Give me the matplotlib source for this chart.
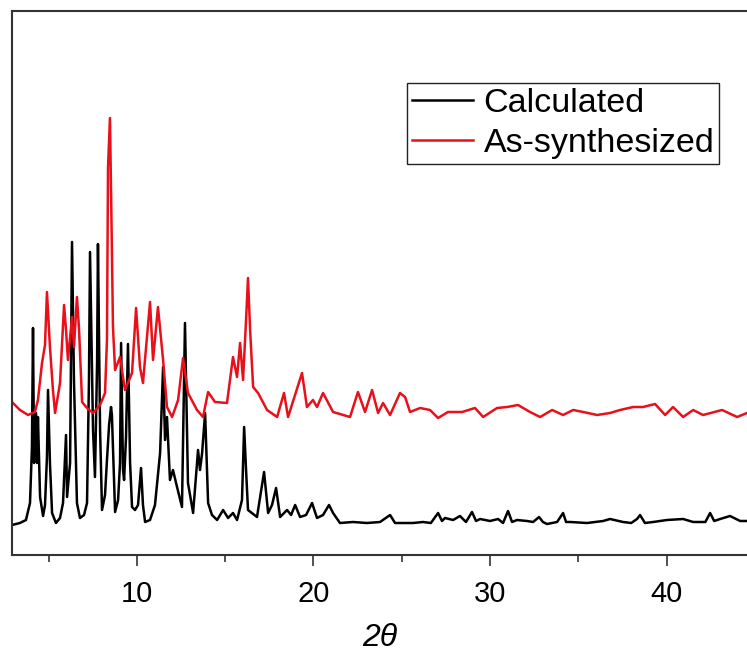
import matplotlib
matplotlib.use("Agg")
import matplotlib.pyplot as plt
from matplotlib.ticker import MultipleLocator

plt.rcParams['font.family'] = ['Liberation Sans', 'DejaVu Sans']

# Calculated pattern (2theta, intensity a.u.)
calc_2theta = [2.92, 3.37, 3.71, 3.94, 4.05, 4.11, 4.17, 4.28, 4.34, 4.39, 4.51, 4.68, 4.79, 4.90, 4.96,
               5.07, 5.19, 5.41, 5.64, 5.81, 5.98, 6.04, 6.21, 6.32, 6.43, 6.60, 6.77, 7.00, 7.17, 7.28,
               7.34, 7.51, 7.62, 7.74, 7.79, 7.91, 8.02, 8.19, 8.30, 8.42, 8.53, 8.58, 8.76, 8.93, 9.04,
               9.10, 9.21, 9.27, 9.38, 9.49, 9.61, 9.72, 9.89, 10.06, 10.23, 10.34, 10.46, 10.74, 11.02,
               11.31, 11.48, 11.59, 11.70, 11.87, 12.04, 12.27, 12.55, 12.72, 12.89, 13.18, 13.46, 13.57,
               13.69, 13.86, 14.03, 14.25, 14.54, 14.88, 15.16, 15.44, 15.67, 15.95, 16.07, 16.18, 16.29,
               16.80, 17.20, 17.43, 17.65, 17.88, 18.11, 18.50, 18.73, 18.96, 19.24, 19.58, 19.92, 20.20,
               20.54, 20.88, 21.11, 21.50, 22.24, 23.03, 23.77, 24.34, 24.62, 24.90, 25.64, 26.21, 26.65,
               27.06, 27.28, 27.45, 27.91, 28.30, 28.64, 28.98, 29.21, 29.44, 30.00, 30.46, 30.74, 31.02,
               31.25, 31.53, 32.10, 32.44, 32.78, 33.00, 33.23, 33.80, 34.14, 34.31, 34.54, 35.50, 36.41,
               36.80, 37.54, 38.00, 38.33, 38.50, 38.78, 39.24, 40.03, 40.94, 41.51, 42.20, 42.47, 42.70,
               43.04, 43.60, 44.17, 44.56]
calc_int = [30, 32, 35, 52, 108, 227, 92, 142, 92, 138, 58, 39, 50, 98, 165,
            92, 42, 32, 37, 52, 120, 58, 92, 313, 175, 52, 37, 40, 52, 175,
            303, 125, 78, 192, 311, 125, 45, 60, 95, 130, 148, 140, 43, 55, 92,
            212, 85, 75, 118, 211, 92, 48, 45, 50, 87, 50, 33, 35, 50,
            102, 188, 115, 138, 75, 85, 68, 48, 232, 72, 42, 105, 85,
            102, 142, 52, 40, 35, 45, 37, 42, 35, 55, 128, 85, 45,
            38, 83, 42, 50, 67, 38, 45, 40, 50, 38, 40, 52, 37,
            40, 50, 42, 32, 33, 32, 33, 40, 32, 32, 32, 33, 32,
            42, 34, 37, 35, 39, 33, 43, 34, 36, 34, 36, 32, 44,
            33, 35, 34, 33, 38, 33, 31, 33, 42, 33, 33, 32, 34,
            36, 33, 32, 36, 40, 32, 33, 35, 36, 33, 33, 42, 34,
            36, 39, 34, 34]

# As-synthesized pattern
exp_2theta = [2.92, 3.37, 3.83, 4.22, 4.39, 4.62, 4.79, 4.90, 5.07, 5.24, 5.36, 5.64, 5.87, 5.98, 6.09,
              6.32, 6.43, 6.60, 6.72, 6.89, 7.17, 7.51, 7.91, 8.19, 8.30, 8.36, 8.47, 8.58, 8.64, 8.76,
              9.04, 9.32, 9.72, 9.95, 10.17, 10.34, 10.74, 10.91, 11.19, 11.48, 11.70, 11.99, 12.33,
              12.61, 12.89, 13.40, 13.74, 14.03, 14.42, 15.10, 15.44, 15.67, 15.84, 16.01, 16.18, 16.29,
              16.41, 16.58, 16.86, 17.37, 17.94, 18.33, 18.56, 19.35, 19.63, 19.97, 20.20, 20.54, 21.11,
              22.07, 22.52, 22.92, 23.32, 23.66, 23.94, 24.34, 24.90, 25.19, 25.47, 26.04, 26.60, 27.06,
              27.62, 28.42, 29.15, 29.61, 30.40, 30.97, 31.59, 32.27, 32.84, 33.52, 34.14, 34.71, 35.28,
              36.07, 36.80, 37.37, 38.11, 38.67, 39.35, 39.92, 40.37, 40.94, 41.51, 42.07, 43.15, 44.00,
              44.56]
exp_int = [153, 145, 140, 143, 155, 192, 210, 263, 208, 165, 142, 172, 250, 225, 195,
           238, 208, 258, 225, 153, 147, 142, 150, 162, 215, 388, 437, 305, 228, 185,
           198, 165, 182, 247, 188, 172, 253, 195, 248, 195, 148, 138, 155,
           197, 162, 145, 138, 163, 153, 152, 198, 178, 212, 175, 235, 277,
           225, 168, 162, 145, 138, 162, 138, 182, 148, 155, 148, 162, 143,
           138, 163, 143, 165, 142, 152, 140, 162, 158, 143, 147, 145, 137,
           143, 143, 147, 138, 147, 148, 150, 143, 138, 145, 140, 145, 143,
           140, 142, 145, 148, 148, 151, 140, 148, 138, 145, 140, 145, 138,
           142]

fig = plt.figure(figsize=(7.47, 6.52), dpi=100)
ax = fig.add_axes([12 / 747, 97 / 652, 735 / 747, 544 / 652])

ax.plot(calc_2theta, calc_int, color='black', lw=1.8, label='Calculated')
ax.plot(exp_2theta, exp_int, color='#e8101a', lw=1.8, label='As-synthesized')

ax.set_xlim(2.92, 44.56)
ax.set_ylim(0, 544)
ax.set_yticks([])
ax.xaxis.set_major_locator(MultipleLocator(10))
ax.xaxis.set_minor_locator(MultipleLocator(5))
ax.tick_params(axis='x', which='major', direction='out', length=8, width=1.2,
               labelsize=21, pad=10, color='#333333')
ax.tick_params(axis='x', which='minor', direction='out', length=5, width=1.2, color='#333333')
for s in ['left', 'top', 'bottom']:
    ax.spines[s].set_linewidth(1.5)
    ax.spines[s].set_color('#333333')
ax.spines['right'].set_visible(False)

ax.set_xlabel('2θ', fontsize=23, style='italic', labelpad=11)

leg = ax.legend(loc='upper left', bbox_to_anchor=(0.5374, 0.8676), fontsize=24.5,
                frameon=True, fancybox=False, edgecolor='#222222', framealpha=1,
                handlelength=1.8, handletextpad=0.3, borderpad=0.15,
                labelspacing=0.27, borderaxespad=0)
leg.get_frame().set_linewidth(1.0)

fig.savefig('out.png', dpi=100)
